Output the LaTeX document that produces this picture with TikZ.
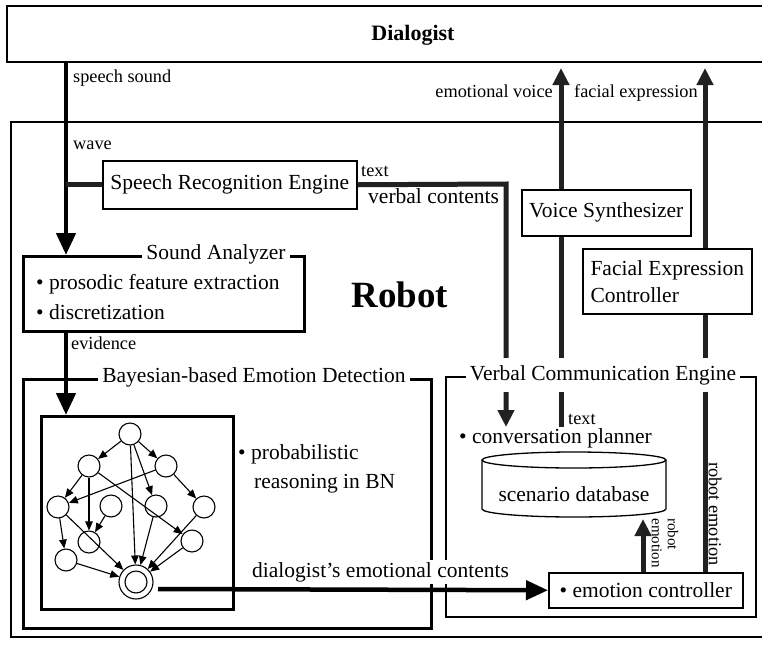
\documentclass[tikz,border=0pt]{standalone}
\usepackage{fontspec}
\setmainfont{Liberation Serif}
\usetikzlibrary{arrows.meta}
\begin{document}
\begin{tikzpicture}[x=1pt,y=-1pt,
  box/.style={draw, line width=1.5pt, inner sep=0pt, font=\fontsize{21.5}{27}\selectfont},
  frame/.style={draw, line width=2.5pt, inner sep=0pt},
  maintext/.style={font=\fontsize{21.5}{27}\selectfont, inner sep=0pt},
  lbl/.style={font=\fontsize{18.3}{20}\selectfont, inner sep=0pt},
  title/.style={fill=white, inner sep=4pt, font=\fontsize{21.5}{24}\selectfont},
  thickarrow/.style={line width=4.5pt, -{Triangle[length=22pt,width=19pt]}},
  texline/.style={line width=5pt, black!87},
  texarrow/.style={texline, -{Triangle[length=17pt,width=16pt]}},
  bn/.style={circle, draw, line width=1.1pt, minimum size=22pt, inner sep=0pt},
  bnarrow/.style={line width=1.1pt, -{Triangle[length=9pt,width=7.5pt]}},
]
\useasboundingbox (0,0) rectangle (762,651);
\clip (0,0) rectangle (762,651);

% Dialogist and Robot outer boxes
\draw[line width=2.5pt] (7,6) rectangle (820,62);
\node[font=\bfseries\fontsize{22}{24}\selectfont] (dialogist) at (413,35) {Dialogist};
\draw[line width=2.8pt] (11,122) rectangle (820,637);
\node[font=\bfseries\fontsize{37}{40}\selectfont, anchor=base] (robot) at (400,307) {Robot};

% coordinates for free ends
\coordinate (ss) at (66,62);
\coordinate (xev) at (561,68);
\coordinate (xfe) at (705,68);
\coordinate (evb) at (561,427);
\coordinate (vcc) at (506,184);
\coordinate (vct) at (506,427);
\coordinate (rea) at (643,519);
\coordinate (dec) at (158,589);

% boxes
\node[box, minimum width=254pt, minimum height=48pt, anchor=north west] (sre) at (102,160) {Speech Recognition Engine};
\node[box, minimum width=169pt, minimum height=46pt, anchor=north west] (vs) at (521,189) {Voice Synthesizer};
\node[box, minimum width=169pt, minimum height=65pt, anchor=north west, align=left] (fec) at (582,248) {Facial Expression\\Controller};
\node[box, minimum width=194pt, minimum height=35pt, anchor=north west] (ec) at (548,572) {\textbullet\ emotion controller};

% framed groups
\node[frame, minimum width=281pt, minimum height=75pt, anchor=north west] (sa) at (22,255) {};
\node[maintext, anchor=base west] (sa1) at (36,289) {\textbullet\ prosodic feature extraction};
\node[maintext, anchor=base west] (sa2) at (36,319) {\textbullet\ discretization};

\node[frame, minimum width=408pt, minimum height=249pt, anchor=north west] (bed) at (22,378) {};
\node[frame, line width=1.8pt, minimum width=310pt, minimum height=240pt, anchor=north west] (vce) at (445,376) {};

\node[frame, minimum width=192pt, minimum height=193pt, anchor=north west] (bnbox) at (40,415) {};
\node[maintext, anchor=base west] (pr1) at (238,459) {\textbullet\ probabilistic};
\node[maintext, anchor=base west] (pr2) at (254,488) {reasoning in BN};

\node[maintext, anchor=base west] (cp) at (459,443) {\textbullet\ conversation planner};

% scenario database cylinder
\draw[line width=1.3pt, fill=white] (482,460) -- (482,509) arc[start angle=180, end angle=360, x radius=92pt, y radius=8pt] -- (666,460);
\draw[line width=1.3pt] (574,460) ellipse [x radius=92pt, y radius=8pt];
\node[maintext] (scen) at (574,494) {scenario database};

% Bayesian network
\node[bn] (n0) at (130,434) {};
\node[bn] (n1a) at (89,466) {};
\node[bn] (n1b) at (166,466) {};
\node[bn] (n2a) at (58,507) {};
\node[bn] (n2b) at (111,506) {};
\node[bn] (n2c) at (156,506) {};
\node[bn] (n2d) at (204,507) {};
\node[bn] (n3a) at (89,542) {};
\node[bn] (n3b) at (66,560) {};
\node[bn] (n3c) at (192,541) {};
\node[bn, minimum size=34pt] (bot) at (136,582) {};
\node[bn] (boti) at (136,582) {};
\foreach \a/\b in {n0/n1a, n0/n1b, n0/bot, n0/n2c, n1a/n2a, n1a/n3a, n1a/n3c, n1b/n2d, n1b/n2a,
  n2a/n3b, n2a/bot, n2b/n3a, n2c/bot, n2d/bot, n3c/bot, n3b/bot}
  \draw[bnarrow] (\a) -- (\b);

% connectors
\draw[thickarrow] (ss) -- (ss |- sa.north);
\draw[texline] (ss |- sre.west) -- (sre.west);
\draw[thickarrow] (ss |- sa.south) -- (ss |- bnbox.north);
\draw[texarrow, line join=miter] (sre.east) -- (vcc) -- (vct);
\draw[texarrow] (vs.north -| xev) -- (xev);
\draw[texline] (evb) -- (vs.south -| evb);
\draw[texarrow] (fec.north -| xfe) -- (xfe);
\draw[texline] (ec.north -| xfe) -- (fec.south -| xfe);
\draw[texarrow] (ec.north -| rea) -- (rea);

% group titles (drawn over lines)
\node[title] (satitle) at (216,254) {Sound Analyzer};
\node[title] (bedtitle) at (254,377) {Bayesian-based Emotion Detection};
\node[title, inner ysep=7pt] (vcetitle) at (603,375) {Verbal Communication Engine};

% labels
\node[lbl, anchor=base west] (lss) at (73,82) {speech sound};
\node[lbl, anchor=base west] (lwave) at (73,149) {wave};
\node[lbl, anchor=base west] (lev) at (71,349) {evidence};
\node[lbl, anchor=base west] (ltext1) at (361,176) {text};
\node[maintext, anchor=base west] (lvc) at (368,203) {verbal contents};
\node[lbl, anchor=base east] (lemv) at (553,97) {emotional voice};
\node[lbl, anchor=base west] (lfe) at (574,97) {facial expression};
\node[lbl, anchor=base west] (ltext2) at (568,424) {text};
\node[lbl, rotate=-90] (lre) at (715,514) {robot emotion};
\node[font=\fontsize{15}{16}\selectfont, rotate=-90, align=left, inner sep=0pt] (lre2) at (665,543) {robot\\emotion};
\node[maintext, anchor=base west, fill=white, inner sep=2pt] (ldec) at (250,577) {dialogist's emotional contents};
\draw[thickarrow] (dec) -- (ec.west);
\end{tikzpicture}
\end{document}
